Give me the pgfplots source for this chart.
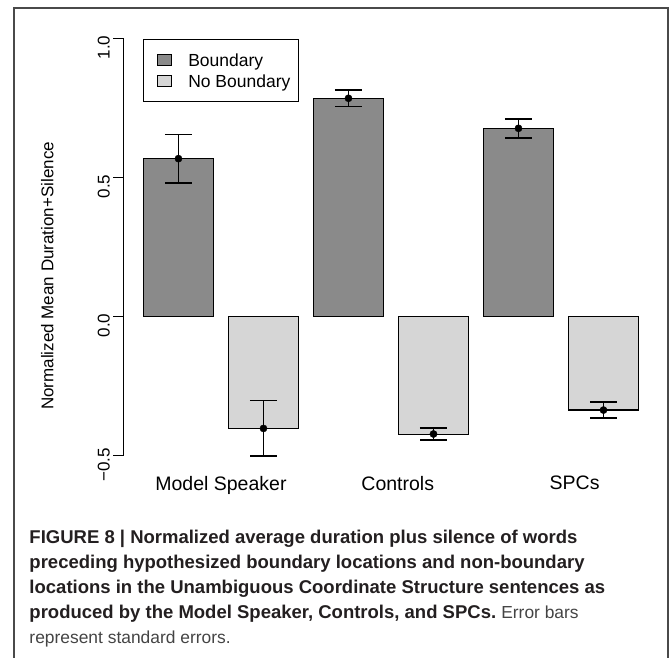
\documentclass[border=0pt]{standalone}
\usepackage{pgfplots}
\pgfplotsset{compat=1.18}
\usepackage{fontspec}
\setmainfont{Liberation Sans}
\definecolor{barDark}{HTML}{8A8A8A}
\definecolor{barLight}{HTML}{D6D6D6}
\definecolor{frameGray}{HTML}{4A4A4A}
\definecolor{capBold}{HTML}{231F20}
\definecolor{capReg}{HTML}{444444}
\begin{document}
\begin{tikzpicture}
\path[use as bounding box] (-123.3pt,-202.3pt) rectangle (546.7pt,455.7pt);
\begin{axis}[
  at={(0pt,0pt)}, anchor=south west,
  scale only axis, width=531.2pt, height=417.2pt,
  xmin=-0.649, xmax=5.6, ymin=-0.5, ymax=1.0,
  axis y line*=left, axis x line*=bottom,
  x axis line style={draw=none},
  y axis line style={line width=1.2pt, black},
  xtick={0.5,2.58,4.66},
  xticklabels={Model Speaker, Controls, SPCs},
  xtick style={draw=none},
  xticklabel style={font=\fontsize{19.5}{22}\selectfont, yshift=-7pt},
  ytick={-0.5,0,0.5,1},
  yticklabels={−0.5,0.0,0.5,1.0},
  yticklabel style={rotate=90, anchor=south, xshift=-9pt, font=\fontsize{17}{19}\selectfont},
  tick align=outside, major tick length=10pt,
  ytick style={line width=1.2pt, black},
  ylabel={Normalized Mean Duration+Silence},
  ylabel style={font=\fontsize{17}{20}\selectfont, at={(axis description cs:-0.143,0.431)}, anchor=center},
  clip=false,
  legend style={at={(axis cs:-0.421,0.998)}, anchor=north west, draw=black, line width=1.2pt,
    font=\fontsize{17.5}{20}\selectfont, inner xsep=8pt, inner ysep=10pt,
    row sep=0pt, column sep=0pt,
    nodes={inner sep=0pt, text height=17pt, text depth=4pt},
    cells={anchor=west}},
  legend image code/.code={%
    \path[draw=none, fill=none] (0pt,0pt) -- (37pt,0pt);
    \draw[#1, line width=1pt] (6pt,-5.3pt) rectangle (20pt,5.3pt);},
]
\addplot[ybar, bar width=69.5pt, bar shift=0pt, fill=barDark, draw=black, line width=1.4pt]
  coordinates {(0,0.568) (2,0.785) (4,0.677)};
\addlegendentry{Boundary}
\addplot[ybar, bar width=69.5pt, bar shift=0pt, fill=barLight, draw=black, line width=1.4pt]
  coordinates {(1,-0.402) (3,-0.424) (5,-0.336)};
\addlegendentry{No Boundary}
\addplot[forget plot, only marks, mark=*, mark size=3.6pt, black,
  error bars/.cd, y dir=both, y explicit,
  error bar style={line width=1.6pt, black},
  error mark options={rotate=90, mark size=13.5pt, line width=1.6pt, black}]
  coordinates {
  (0,0.568) +- (0,0.087)
  (1,-0.402) +- (0,0.100)
  (2,0.785) +- (0,0.029)
  (3,-0.422) +- (0,0.022)
  (4,0.677) +- (0,0.034)
  (5,-0.336) +- (0,0.028)
  };
\end{axis}
\draw[frameGray, line width=1.5pt] (-109.3pt,-202.3pt) -- (-109.3pt,447.7pt) -- (544.7pt,447.7pt) -- (544.7pt,-202.3pt);
\begin{scope}[every node/.style={anchor=base west, inner sep=0pt}]
\node[text=capBold, font=\bfseries\fontsize{18.5}{22}\selectfont] at (-94pt,-88.3pt) {FIGURE 8 | Normalized average duration plus silence of words};
\node[text=capBold, font=\bfseries\fontsize{18.5}{22}\selectfont] at (-94pt,-113.3pt) {preceding hypothesized boundary locations and non-boundary};
\node[text=capBold, font=\bfseries\fontsize{18.5}{22}\selectfont] at (-94pt,-138.3pt) {locations in the Unambiguous Coordinate Structure sentences as};
\node[text=capBold, font=\bfseries\fontsize{18.5}{22}\selectfont] at (-94pt,-163.3pt) {produced by the Model Speaker, Controls, and SPCs.\ {\mdseries\fontsize{17.4}{22}\selectfont\color{capReg}Error bars}};
\node[text=capReg, font=\fontsize{17.4}{22}\selectfont] at (-94pt,-188.3pt) {represent standard errors.};
\end{scope}
\end{tikzpicture}
\end{document}
